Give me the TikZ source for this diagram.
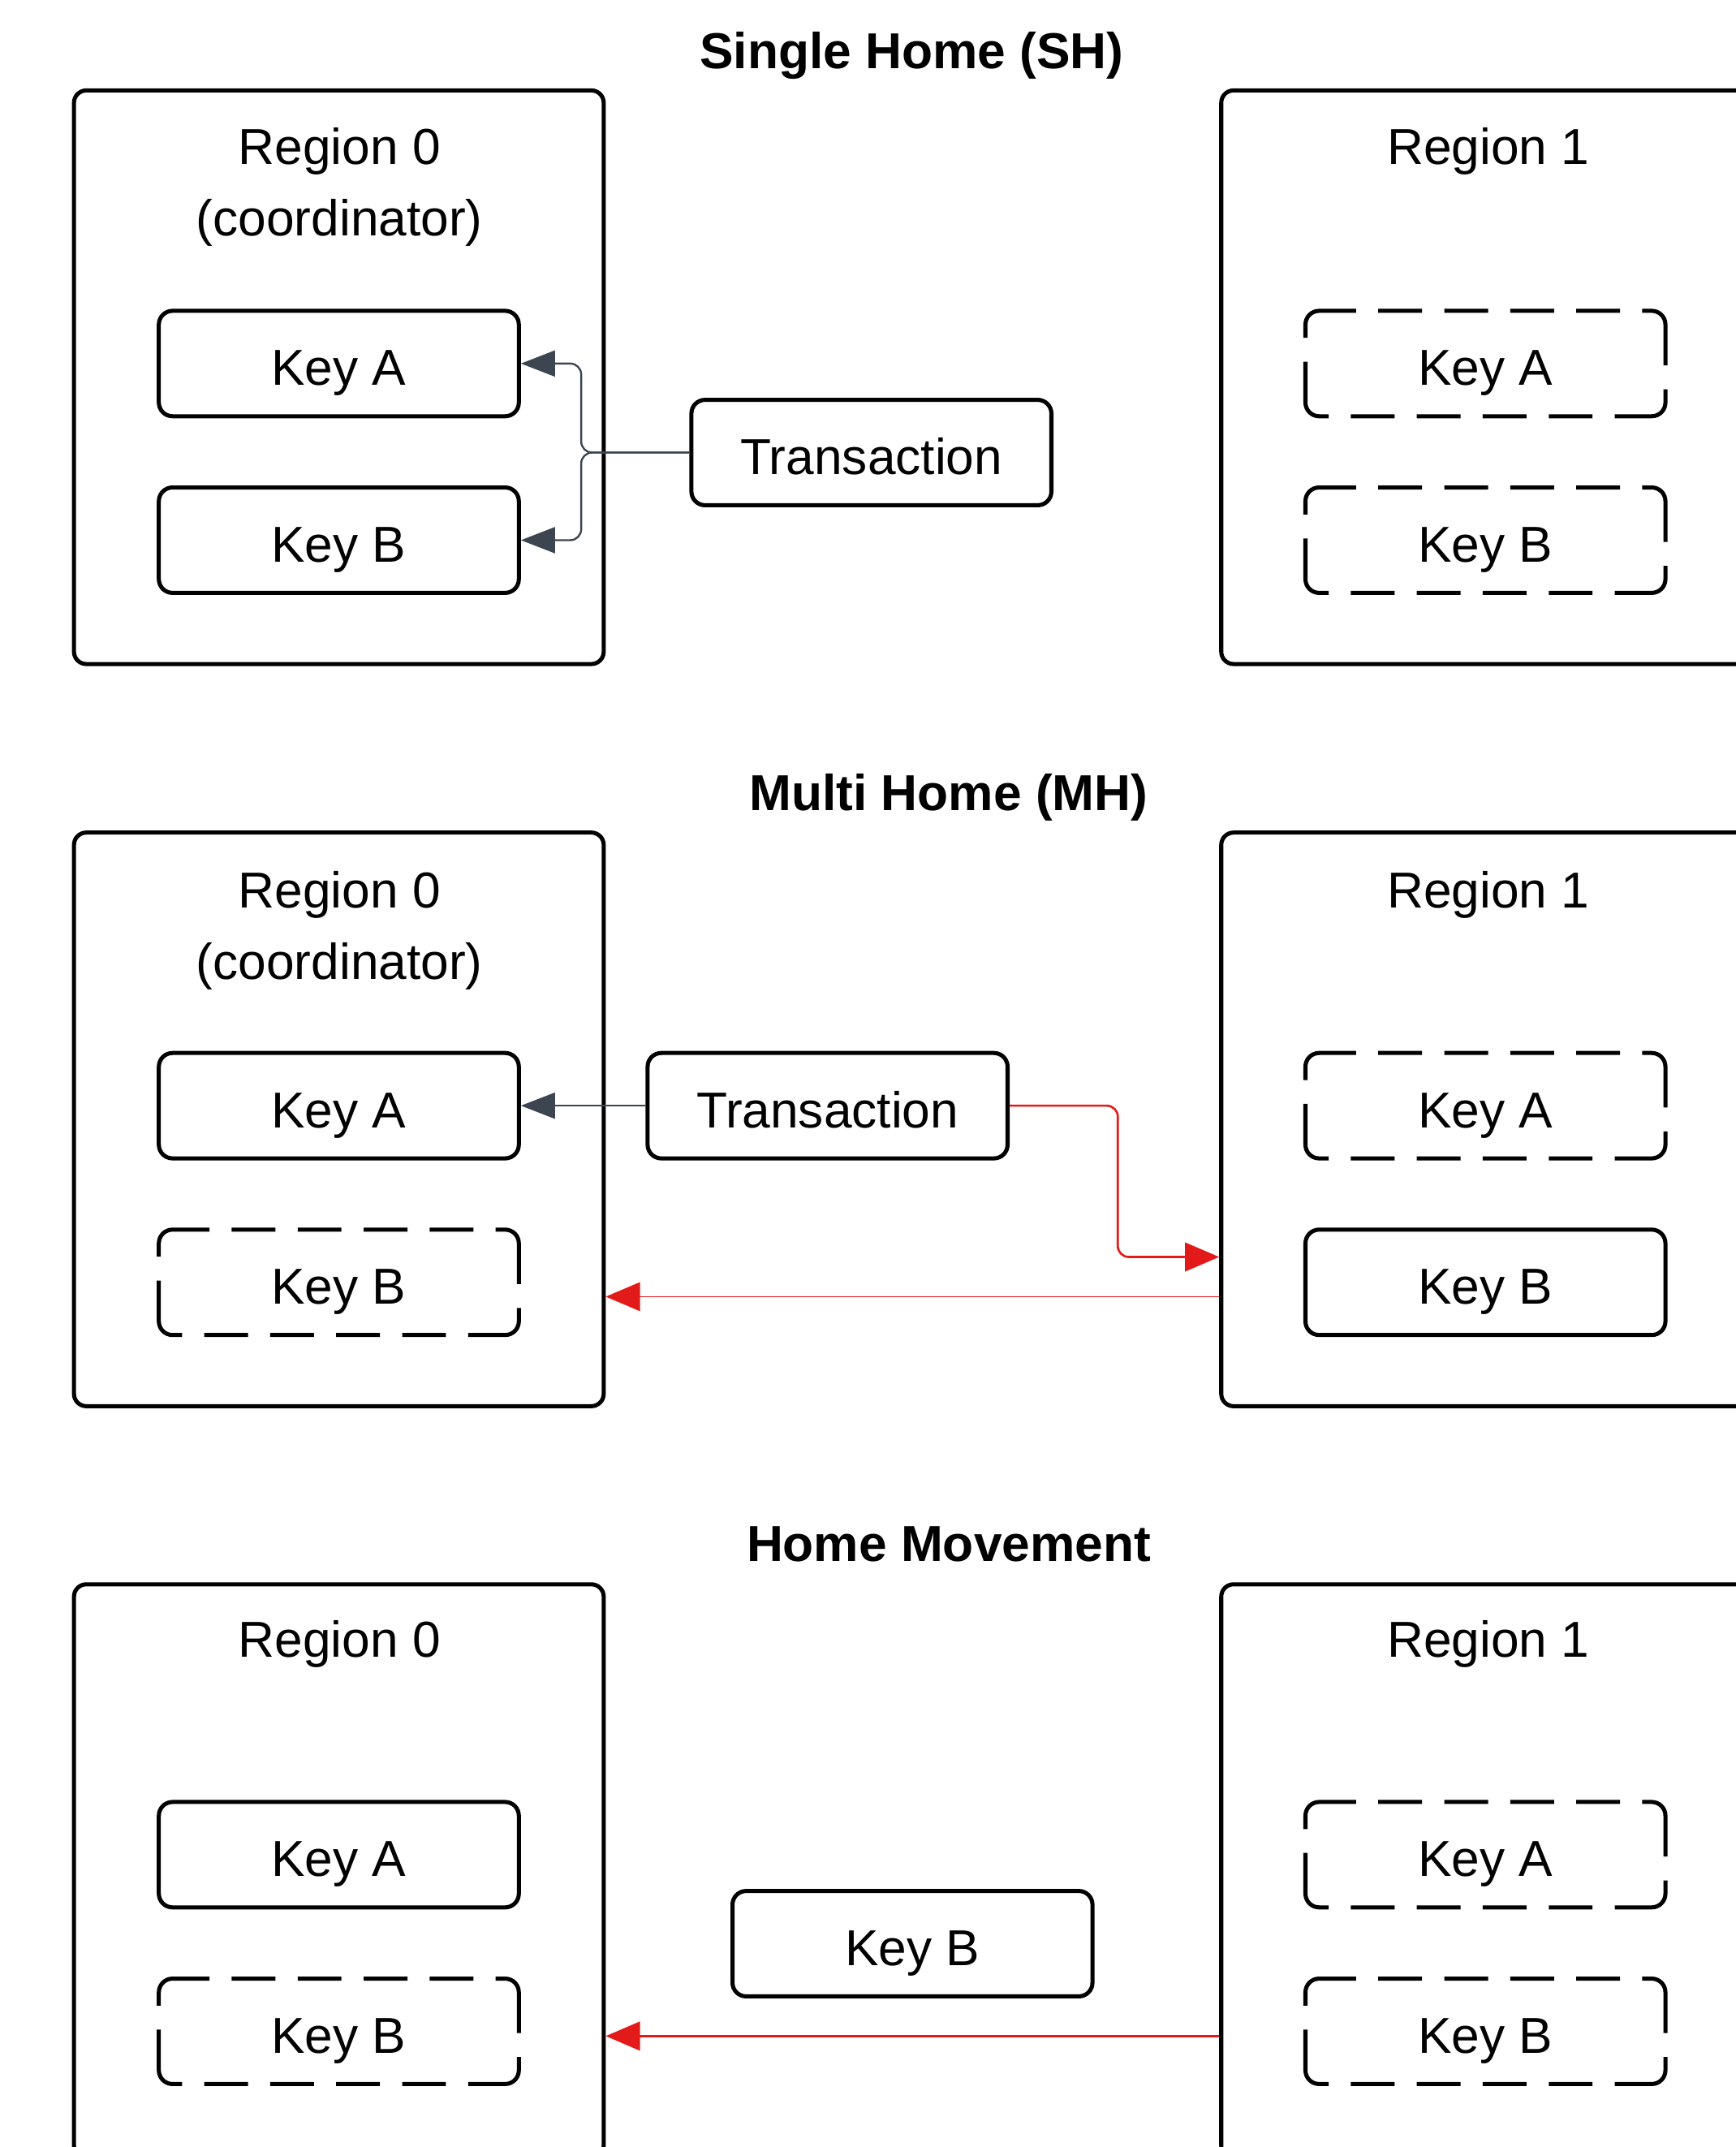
\documentclass[tikz,border=0pt]{standalone}
\usepackage{fontspec}
\setmainfont{Liberation Sans}
\usetikzlibrary{arrows.meta}
\definecolor{arrgray}{HTML}{3D4550}
\definecolor{arrred}{HTML}{E31A1A}
\begin{document}
\begin{tikzpicture}[x=0.02cm,y=-0.02cm,
  font=\fontsize{21}{29.5}\selectfont,
  region/.style={draw, line width=1.7pt, rounded corners=0.18cm, minimum width=7.74cm, minimum height=8.38cm, inner sep=0pt},
  keybox/.style={draw, line width=1.7pt, rounded corners=0.2cm, minimum width=5.26cm, minimum height=1.54cm, inner sep=0pt, text height=0.64cm, text depth=0pt},
  ghost/.style={keybox, draw=none, outer sep=0pt},
  ghostline/.style={draw, line width=1.7pt, rounded corners=0.2cm,
    dash pattern=on 1.049cm off 0.324cm on 0.64cm off 0.324cm on 0.64cm off 0.324cm on 0.64cm off 0.324cm on 0.64cm off 0.324cm on 1.049cm off 0.35cm,
    dash phase=6.453cm},
  title/.style={font=\fontsize{21}{25}\selectfont\bfseries, inner sep=0pt, anchor=base},
  lbl/.style={inner sep=0pt, anchor=base},
  grayarr/.style={draw=arrgray, line width=0.8pt, -{Triangle[length=0.5cm,width=0.38cm]}, rounded corners=0.16cm},
  redarr/.style={draw=arrred, line width=0.9pt, -{Triangle[length=0.5cm,width=0.42cm]}, rounded corners=0.16cm}]

\useasboundingbox (0,0) rectangle (1268,1568);
\clip (0,0) rectangle (1268,1568);

% ---------- Single Home ----------
\node[title] (t1) at (666,50) {Single Home (SH)};
\node[region] (R0s) at (247.5,275.5) {};
\node[region] (R1s) at (1085.5,275.5) {};
\node[lbl] (R0sl) at (248,120) {Region 0};
\node[lbl] (R0sc) at (248,172) {(coordinator)};
\node[lbl] (R1sl) at (1087,120) {Region 1};
\node[keybox] (A1) at (247.5,265.5) {Key A};
\node[keybox] (B1) at (247.5,394.5) {Key B};
\node[ghost] (A1r) at (1085,265.5) {Key A};
\node[ghost] (B1r) at (1085,394.5) {Key B};
\draw[ghostline] (A1r.west) |- (A1r.north east) |- (A1r.south west) -- cycle;
\draw[ghostline] (B1r.west) |- (B1r.north east) |- (B1r.south west) -- cycle;
\node[keybox] (T1) at (636.5,330.5) {Transaction};
\draw[grayarr] (T1.west) -- ++(-79,0) |- (A1.east);
\draw[grayarr] (T1.west) -- ++(-79,0) |- (B1.east);

% ---------- Multi Home ----------
\node[title] (t2) at (693,592) {Multi Home (MH)};
\node[region] (R0m) at (247.5,817.5) {};
\node[region] (R1m) at (1085.5,817.5) {};
\node[lbl] (R0ml) at (248,663) {Region 0};
\node[lbl] (R0mc) at (248,715) {(coordinator)};
\node[lbl] (R1ml) at (1087,663) {Region 1};
\node[keybox] (A2) at (247.5,807.5) {Key A};
\node[ghost] (B2) at (247.5,936.5) {Key B};
\draw[ghostline] (B2.west) |- (B2.north east) |- (B2.south west) -- cycle;
\node[ghost] (A2r) at (1085,807.5) {Key A};
\draw[ghostline] (A2r.west) |- (A2r.north east) |- (A2r.south west) -- cycle;
\node[keybox] (B2r) at (1085,936.5) {Key B};
\node[keybox] (T2) at (604.5,807.5) {Transaction};
\draw[grayarr] (T2.west) -- (A2.east);
\draw[redarr] (T2.east) -- ++(79,0) |- ([yshift=-2.01cm]R1m.west);
\draw[redarr, line width=0.6pt] ([yshift=-2.59cm]R1m.west) -- ([yshift=-2.59cm]R0m.east);

% ---------- Home Movement ----------
\node[title] (t3) at (693,1140) {Home Movement};
\node[region] (R0h) at (247.5,1366.5) {};
\node[region] (R1h) at (1085.5,1366.5) {};
\node[lbl] (R0hl) at (248,1210) {Region 0};
\node[lbl] (R1hl) at (1087,1210) {Region 1};
\node[keybox] (A3) at (247.5,1354.5) {Key A};
\node[ghost] (B3) at (247.5,1483.5) {Key B};
\draw[ghostline] (B3.west) |- (B3.north east) |- (B3.south west) -- cycle;
\node[ghost] (A3r) at (1085,1354.5) {Key A};
\draw[ghostline] (A3r.west) |- (A3r.north east) |- (A3r.south west) -- cycle;
\node[ghost] (B3r) at (1085,1483.5) {Key B};
\draw[ghostline] (B3r.west) |- (B3r.north east) |- (B3r.south west) -- cycle;
\node[keybox] (K3) at (666.5,1419.5) {Key B};
\draw[redarr] ([yshift=-2.41cm]R1h.west) -- ([yshift=-2.41cm]R0h.east);
\end{tikzpicture}
\end{document}
